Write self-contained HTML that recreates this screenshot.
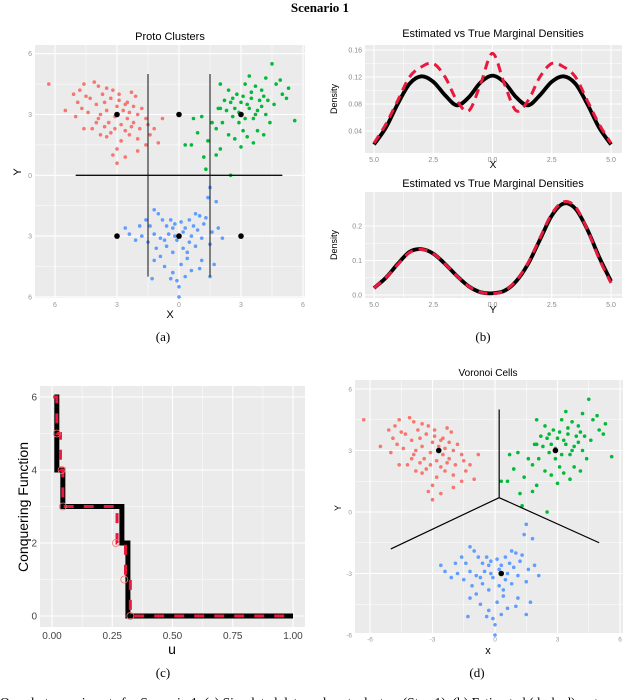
<!DOCTYPE html>
<html><head><meta charset="utf-8">
<style>
body{margin:0;background:#fff;width:640px;height:700px;overflow:hidden;position:relative;font-family:"Liberation Sans",sans-serif}
svg{position:absolute;left:0;top:0}
</style></head>
<body>
<svg id="fig" width="640" height="700" viewBox="0 0 640 700">
<text x="320" y="12" text-anchor="middle" font-family="Liberation Serif" font-weight="bold" font-size="13">Scenario 1</text>
<text x="163" y="341" text-anchor="middle" font-family="Liberation Serif" font-size="13">(a)</text>
<text x="483" y="341" text-anchor="middle" font-family="Liberation Serif" font-size="13">(b)</text>
<text x="163" y="677" text-anchor="middle" font-family="Liberation Serif" font-size="13">(c)</text>
<text x="477" y="677" text-anchor="middle" font-family="Liberation Serif" font-size="13">(d)</text>
<text x="0" y="707" font-family="Liberation Serif" font-size="13.5">One shot experiments for Scenario 1. (a) Simulated data and protoclusters (Step 1). (b) Estimated (dashed) vs true</text>
</svg>
<script>
// ---- data ----
const redPts=[[-6.3,4.5],[-5.1,4.0],[-4.8,4.2],[-4.5,3.9],[-4.1,4.6],[-3.7,4.0],[-3.5,4.3],[-3.2,4.2],[-2.9,3.7],[-2.5,3.6],[-2.2,3.4],[-2.0,3.0],[-1.6,2.8],[-1.2,2.3],[-0.8,2.8],[-1.0,1.6],[-1.6,1.5],[-2.0,1.2],[-2.6,0.9],[-3.0,1.3],[-3.2,1.0],[-3.0,0.6],[-3.5,1.9],[-3.8,2.0],[-4.2,2.3],[-4.6,2.3],[-5.0,2.9],[-5.5,3.2],[-4.4,3.1],[-4.0,3.5],[-3.8,3.0],[-3.4,2.6],[-3.1,2.9],[-2.8,2.5],[-2.6,2.2],[-2.4,2.0],[-2.2,2.6],[-1.9,2.3],[-2.7,3.2],[-3.0,3.4],[-3.6,3.6],[-4.3,3.8],[-4.9,3.6],[-2.4,3.1],[-1.8,3.3],[-1.4,2.0],[-3.3,2.1],[-2.8,1.7],[-4.0,2.6],[-3.6,2.4],[-2.5,2.8],[-2.0,1.8],[-3.9,4.4],[-4.6,4.5],[-2.9,4.0],[-2.3,4.1],[-3.3,3.8],[-1.5,2.5],[-2.1,3.9],[-4.7,3.3],[-3.5,3.2],[-2.6,3.5],[-3.9,2.8],[-2.3,2.4],[-3.1,2.3]];
const greenPts=[[0.3,1.5],[0.6,1.5],[0.9,2.1],[0.7,2.8],[1.1,2.9],[1.4,1.7],[1.2,0.9],[1.3,0.3],[1.8,1.0],[2.0,1.3],[1.8,2.3],[2.1,2.6],[2.3,3.2],[2.0,3.3],[2.5,3.6],[2.4,2.0],[2.7,1.8],[2.9,2.6],[3.1,2.2],[3.3,1.9],[3.6,1.6],[3.8,2.2],[4.1,2.0],[4.4,2.6],[4.6,3.5],[5.0,4.0],[5.3,4.3],[5.6,2.7],[5.2,3.8],[4.7,4.5],[4.2,4.8],[4.5,5.5],[4.9,4.7],[4.0,4.2],[3.7,4.4],[3.5,4.1],[3.2,4.5],[2.8,4.0],[2.4,4.2],[2.0,4.5],[3.0,3.6],[3.4,3.3],[3.8,3.2],[4.2,3.0],[3.6,2.8],[2.6,2.9],[3.2,2.8],[3.9,3.7],[4.3,3.7],[2.2,3.7],[1.6,2.6],[2.9,3.1],[3.5,3.8],[2.7,3.3],[1.9,3.3],[3.4,4.9],[2.5,0.0],[3.0,1.4],[4.0,3.4],[3.1,3.9],[3.3,3.5],[2.6,3.8],[3.7,3.0],[4.1,3.9]];
const bluePts=[[-1.2,-1.7],[-1.0,-1.9],[1.5,-0.6],[1.8,-1.3],[1.4,-1.1],[-2.6,-2.6],[-2.4,-2.9],[-2.1,-3.2],[-1.9,-2.5],[-1.6,-2.2],[-1.4,-2.5],[-1.2,-2.9],[-1.5,-3.3],[-0.9,-3.1],[-0.6,-2.5],[-0.4,-2.2],[-0.2,-2.4],[0.1,-2.3],[0.3,-2.6],[0.5,-2.2],[0.8,-1.9],[1.0,-2.0],[1.2,-2.4],[1.6,-2.8],[1.9,-2.6],[2.1,-3.1],[1.5,-3.4],[1.1,-3.1],[0.8,-3.5],[0.5,-3.3],[0.2,-3.6],[-0.1,-3.2],[-0.3,-3.8],[-0.6,-3.5],[-0.9,-4.0],[-1.2,-4.2],[-0.7,-4.5],[-0.3,-4.8],[0.1,-4.4],[0.3,-5.0],[0.6,-4.7],[1.0,-4.6],[1.1,-4.2],[1.5,-5.0],[1.7,-4.4],[-1.3,-5.1],[-0.4,-5.1],[0.0,-5.5],[-0.1,-5.2],[0.4,-4.1],[-0.2,-3.0],[0.2,-2.8],[-0.5,-2.9],[0.6,-3.0],[-1.1,-3.6],[0.9,-2.7],[-1.8,-3.0],[1.3,-2.1],[-0.8,-2.2],[0.0,-6.0],[-0.3,-2.6],[0.4,-3.8],[-0.7,-3.2],[0.7,-2.5]];
const protoCenters=[[-3,3],[0,3],[3,3],[-3,-3],[0,-3],[3,-3]];
const protoSegs=[[-1.5,5,-1.5,-5],[1.5,5,1.5,-5],[-5,0,5,0]];
const scatterTicks=[-6,-3,0,3,6];
const scatterTickLabels=["6","3","0","3","6"];
const densX=[-5,-4.5,-4,-3.5,-3,-2.5,-2,-1.5,-1,-0.5,0,0.5,1,1.5,2,2.5,3,3.5,4,4.5,5];
const estDensX=[0.02,0.045,0.08,0.11,0.121,0.113,0.093,0.078,0.09,0.112,0.122,0.112,0.09,0.078,0.093,0.113,0.121,0.11,0.08,0.045,0.02];
const trueDensX=[0.022,0.05,0.085,0.12,0.135,0.14,0.12,0.085,0.07,0.11,0.155,0.11,0.07,0.085,0.12,0.14,0.135,0.12,0.085,0.05,0.022];
const estDensY=[0.02,0.05,0.09,0.125,0.133,0.12,0.09,0.055,0.025,0.008,0.005,0.012,0.04,0.09,0.16,0.23,0.265,0.25,0.19,0.11,0.04];
const trueDensY=[0.02,0.05,0.088,0.123,0.132,0.12,0.09,0.055,0.025,0.008,0.004,0.012,0.042,0.093,0.165,0.235,0.27,0.255,0.19,0.105,0.035];
const densXTicks=[-5,-2.5,0,2.5,5];
const densXTickLabels=["5.0","2.5","0.0","2.5","5.0"];
const densTopYTicks=[0.04,0.08,0.12,0.16];
const densTopYLabels=["0.04","0.08","0.12","0.16"];
const densBotYTicks=[0,0.1,0.2];
const densBotYLabels=["0.0","0.1","0.2"];
const estStepU=[0.01,0.02,0.02,0.045,0.045,0.29,0.29,0.315,0.315,1.0];
const estStepV=[6,6,4,4,3,3,2,2,0,0];
const trueStepU=[0.005,0.02,0.02,0.035,0.035,0.045,0.045,0.27,0.27,0.305,0.305,0.325,0.325,1.0];
const trueStepV=[6,6,5,5,4,4,3,3,2,2,1,1,0,0];
const circU=[0.02,0.04,0.045,0.265,0.30,0.325];
const circV=[5,4,3,2,1,0];
const uTicks=[0,0.25,0.5,0.75,1];
const uTickLabels=["0.00","0.25","0.50","0.75","1.00"];
const cfTicks=[0,2,4,6];
const voronoiCenters=[[-2.7,3],[2.9,3],[0.3,-3]];
const voronoiVertex=[0.2,0.7];
const voronoiEnds=[[0.2,5],[-5,-1.8],[5,-1.5]];
const vorTickLabels=["-6","-3","0","3","6"];

// ---- helpers ----
const NS="http://www.w3.org/2000/svg";
const svg=document.getElementById('fig');
function mk(tag,attrs,parent){const e=document.createElementNS(NS,tag);for(const k in attrs)e.setAttribute(k,attrs[k]);(parent||svg).appendChild(e);return e;}
function lin(d0,d1,p0,p1){return v=>p0+(v-d0)*(p1-p0)/(d1-d0);}
function smoothPath(xs,ys){let d=`M${xs[0]},${ys[0]}`;for(let i=0;i<xs.length-1;i++){const x0=xs[Math.max(i-1,0)],y0=ys[Math.max(i-1,0)],x1=xs[i],y1=ys[i],x2=xs[i+1],y2=ys[i+1],x3=xs[Math.min(i+2,xs.length-1)],y3=ys[Math.min(i+2,xs.length-1)];d+=` C${x1+(x2-x0)/6},${y1+(y2-y0)/6} ${x2-(x3-x1)/6},${y2-(y3-y1)/6} ${x2},${y2}`;}return d;}

function panel(name,x0,y0,x1,y1){
  const g=mk('g',{});
  
  
  const r=mk('rect',{x:x0,y:y0,width:x1-x0,height:y1-y0,fill:'#EBEBEB'},g);
  
  
  return g;
}
function grid(g,orient,pos,lo,hi,major){
  const a=orient==='v'?{x1:pos,x2:pos,y1:lo,y2:hi}:{y1:pos,y2:pos,x1:lo,x2:hi};
  a.stroke='#fff';a['stroke-width']=major?1.1:0.5;
  const l=mk('line',a,g);
  
  
}
function txt(g,x,y,s,size,fill,anchor,rot){
  const t=mk('text',{x:x,y:y,'font-size':size,fill:fill,'text-anchor':anchor||'middle'},g);
  if(rot)t.setAttribute('transform',`rotate(-90 ${x} ${y})`);
  t.textContent=s;
  return t;
}
function axesGrid(g,X,Y,xt,yt,bx,by,xLab,yLab,sz,col){
  for(let i=0;i<xt.length;i++){grid(g,'v',X(xt[i]),by[0],by[1],true);if(i<xt.length-1)grid(g,'v',X((xt[i]+xt[i+1])/2),by[0],by[1],false);}
  for(let i=0;i<yt.length;i++){grid(g,'h',Y(yt[i]),bx[0],bx[1],true);if(i<yt.length-1)grid(g,'h',Y((yt[i]+yt[i+1])/2),bx[0],bx[1],false);}
  xt.forEach((v,i)=>{const t=txt(g,X(v),by[1]+sz+2,xLab[i],sz,col);});
  yt.forEach((v,i)=>{const t=txt(g,bx[0]-3,Y(v)+sz*0.35,yLab[i],sz,col,'end');});
}
function cloud(g,X,Y){
  [[redPts,'#F8766D'],[greenPts,'#00BA38'],[bluePts,'#619CFF']].forEach(([pts,c])=>pts.forEach(p=>{
    const d=mk('circle',{cx:X(p[0]),cy:Y(p[1]),r:1.8,fill:c},g);
    
    
  }));
}

// ---- panel a ----
(function(){
  const g=panel('proto-clusters-panel',35,45,305,298);
  const X=lin(0,3,179,241),Y=lin(0,3,175.3,114.5);
  axesGrid(g,X,Y,scatterTicks,scatterTicks,[35,305],[45,298],scatterTickLabels,scatterTickLabels,7,'#999');
  const t=txt(g,170,40,'Proto Clusters',11,'#000');
  const xl=txt(g,170,318,'X',11,'#000');
  const yl=txt(g,21,172,'Y',11,'#000','middle',true);
  cloud(g,X,Y);
  protoSegs.forEach(s=>{const l=mk('line',{x1:X(s[0]),y1:Y(s[1]),x2:X(s[2]),y2:Y(s[3]),stroke:'#111','stroke-width':s[1]===s[3]?1.3:1},g);});
  protoCenters.forEach(p=>{const c=mk('circle',{cx:X(p[0]),cy:Y(p[1]),r:2.8,fill:'#000'},g);});
})();

// ---- panel b ----
function densPanel(name,y0,y1,Y,yt,yl,est,tru,title,titleY,xlab){
  const g=panel(name,365,y0,622,y1);
  const X=lin(-5,5,374,611);
  axesGrid(g,X,Y,densXTicks,yt,[365,622],[y0,y1],densXTickLabels,yl,7,'#888');
  const t=txt(g,493,titleY,title,11,'#000');
  const xa=txt(g,493,y1+15,xlab,10,'#000');
  const ya=txt(g,337,(y0+y1)/2,'Density',9,'#000','middle',true);
  const px=densX.map(X);
  const e=mk('path',{d:smoothPath(px,est.map(Y)),fill:'none',stroke:'#000','stroke-width':3.8},g);
  
  const r=mk('path',{d:smoothPath(px,tru.map(Y)),fill:'none',stroke:'#E8193C','stroke-width':3,'stroke-dasharray':'9 6'},g);
  
}
densPanel('density-x-panel',45,153,lin(0,0.12,158,77),densTopYTicks,densTopYLabels,estDensX,trueDensX,'Estimated vs True Marginal Densities',37,'X');
densPanel('density-y-panel',192,298,lin(0,0.2,295,226),densBotYTicks,densBotYLabels,estDensY,trueDensY,'Estimated vs True Marginal Densities',187,'Y');

// ---- panel c ----
(function(){
  const g=panel('conquering-function-panel',40,386,305,627);
  const X=lin(0,1,52,293),Y=lin(0,6,616,397);
  axesGrid(g,X,Y,uTicks,cfTicks,[40,305],[386,627],uTickLabels,cfTicks.map(String),10,'#444');
  const xa=txt(g,172,654,'u',14,'#000');
  const ya=txt(g,28,507,'Conquering Function',14,'#000','middle',true);
  const e=mk('polyline',{points:estStepU.map((u,i)=>X(u)+','+Y(estStepV[i])).join(' '),fill:'none',stroke:'#000','stroke-width':5},g);
  
  const r=mk('polyline',{points:trueStepU.map((u,i)=>X(u)+','+Y(trueStepV[i])).join(' '),fill:'none',stroke:'#E8193C','stroke-width':3,'stroke-dasharray':'10 10'},g);
  
  circU.forEach((u,i)=>{const c=mk('circle',{cx:X(u),cy:Y(circV[i]),r:3.5,fill:'none',stroke:'#F8766D','stroke-width':0.8},g);});
})();

// ---- panel d ----
(function(){
  const g=panel('voronoi-cells-panel',355,380,623,633);
  const X=lin(0,6,495,620),Y=lin(0,6,512,389);
  axesGrid(g,X,Y,scatterTicks,scatterTicks,[355,623],[380,633],vorTickLabels,vorTickLabels,6.5,'#999');
  const t=txt(g,488,376,'Voronoi Cells',10,'#000');
  const xa=txt(g,488,654,'x',11,'#000');
  const ya=txt(g,341,508,'Y',9,'#000','middle',true);
  cloud(g,X,Y);
  voronoiEnds.forEach(p=>{const l=mk('line',{x1:X(voronoiVertex[0]),y1:Y(voronoiVertex[1]),x2:X(p[0]),y2:Y(p[1]),stroke:'#000','stroke-width':1.2},g);});
  voronoiCenters.forEach(p=>{const c=mk('circle',{cx:X(p[0]),cy:Y(p[1]),r:2.8,fill:'#000'},g);});
})();
</script>
</body></html>
